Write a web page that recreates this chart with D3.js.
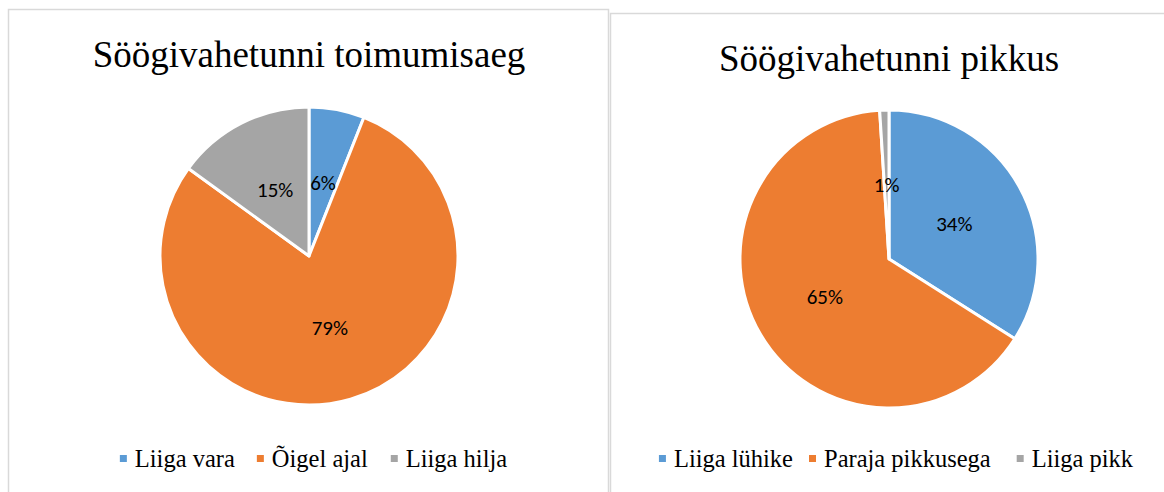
<!DOCTYPE html>
<html>
<head>
<meta charset="utf-8">
<script src="https://cdn.jsdelivr.net/npm/d3@7"></script>
<style>
  body { margin: 0; background: #fff; }
  svg { display: block; }
</style>
</head>
<body>
<div id="chart-container"></div>
<script>
const colors = ["#5b9bd5", "#ed7d31", "#a5a5a5"];

// vasak diagramm
const timeTitle = "Söögivahetunni toimumisaeg";
const timeCategories = ["Liiga vara", "Õigel ajal", "Liiga hilja"];
const timeValues = [6, 79, 15];

// parem diagramm
const lengthTitle = "Söögivahetunni pikkus";
const lengthCategories = ["Liiga lühike", "Paraja pikkusega", "Liiga pikk"];
const lengthValues = [34, 65, 1];

const width = 1164;
const height = 492;

const svg = d3
  .select("#chart-container")
  .append("svg")
  .attr("width", width)
  .attr("height", height);

// raamid
svg.append("rect")
  .attr("x", 8.5).attr("y", 9.5)
  .attr("width", 600).attr("height", 500)
  .attr("fill", "none").attr("stroke", "#d9d9d9").attr("stroke-width", 1.5);

svg.append("rect")
  .attr("x", 610.5).attr("y", 13.5)
  .attr("width", 600).attr("height", 500)
  .attr("fill", "none").attr("stroke", "#d9d9d9").attr("stroke-width", 1.5);

function drawPie(opts) {
  const g = svg.append("g");
  const { cx, cy, r } = opts;

  g.append("text")
    .attr("x", cx)
    .attr("y", opts.titleY)
    .attr("text-anchor", "middle")
    .style("font-family", "'Liberation Serif', 'Times New Roman', serif")
    .style("font-size", "37px")
    .attr("fill", "#000")
    .text(opts.title);

  const pie = d3.pie().sort(null).value((d) => d)(opts.values);
  const arc = d3.arc().innerRadius(0).outerRadius(r);
  const labelArc = d3.arc().innerRadius(r * 0.5).outerRadius(r * 0.5);

  const pg = g.append("g").attr("transform", `translate(${cx}, ${cy})`);

  pg.selectAll("path")
    .data(pie)
    .enter()
    .append("path")
    .attr("d", arc)
    .attr("fill", (d, i) => colors[i])
    .attr("stroke", "#fff")
    .attr("stroke-width", 3)
    .attr("stroke-linejoin", "round");

  pg.selectAll("text")
    .data(pie)
    .enter()
    .append("text")
    .attr("transform", (d) => `translate(${labelArc.centroid(d)})`)
    .attr("text-anchor", "middle")
    .attr("dy", "0.36em")
    .style("font-family", "Carlito, Lato, 'Open Sans', sans-serif")
    .style("font-size", "21px")
    .attr("fill", "#000")
    .text((d) => d.data + "%");

  // legend
  const lg = g.append("g");
  const items = lg.selectAll("g")
    .data(opts.categories)
    .enter()
    .append("g");
  items.append("rect")
    .attr("width", 7).attr("height", 7)
    .attr("y", -12)
    .attr("fill", (d, i) => colors[i]);
  items.append("text")
    .attr("x", 15)
    .style("font-family", "'Liberation Serif', 'Times New Roman', serif")
    .style("font-size", "24.5px")
    .attr("fill", "#000")
    .text((d) => d);

  let xpos = 0;
  items.each(function (d, i) {
    const w = this.querySelector("text").getComputedTextLength() + 15;
    d3.select(this).attr("transform", `translate(${xpos}, 0)`);
    xpos += w + (opts.legendGaps[i] || 0);
  });
  lg.attr("transform", `translate(${opts.legendX - xpos / 2}, ${opts.legendY})`);
}

drawPie({
  title: timeTitle, categories: timeCategories, values: timeValues,
  cx: 309, cy: 256, r: 149, titleY: 67,
  legendX: 313.5, legendY: 467, legendGaps: [22, 23]
});

drawPie({
  title: lengthTitle, categories: lengthCategories, values: lengthValues,
  cx: 889, cy: 259, r: 149, titleY: 71,
  legendX: 896, legendY: 467, legendGaps: [16, 26]
});
</script>
</body>
</html>
